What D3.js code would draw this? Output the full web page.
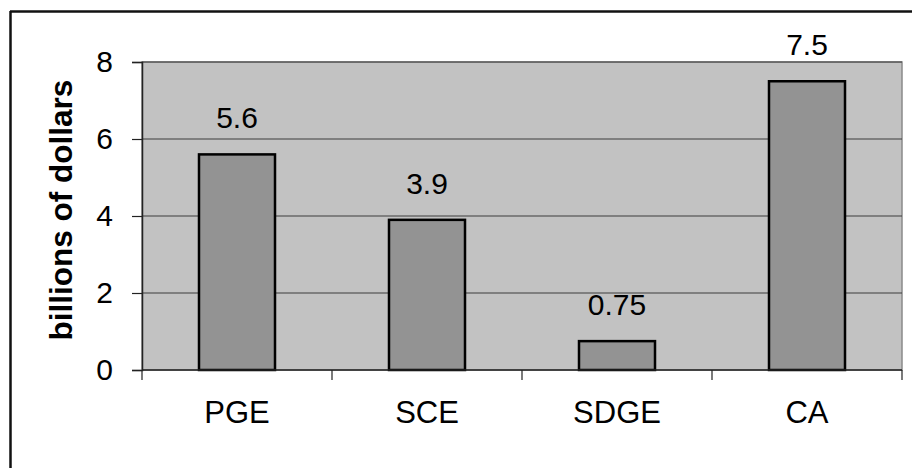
<!DOCTYPE html>
<html>
<head>
<meta charset="utf-8">
<script src="https://cdn.jsdelivr.net/npm/d3@7"></script>
<style>
  body { margin: 0; background: #fff; }
  svg text { font-family: "Liberation Sans", Arial, sans-serif; fill: #000; }
</style>
</head>
<body>
<div id="chart"></div>
<script>
const categories = ['PGE', 'SCE', 'SDGE', 'CA'];
const values = [5.6, 3.9, 0.75, 7.5];
const valueLabels = ['5.6', '3.9', '0.75', '7.5'];
const yTicks = [0, 2, 4, 6, 8];

const width = 912, height = 468;
const margin = { top: 62, right: 10, bottom: 98, left: 142 };

const svg = d3.select('#chart').append('svg')
    .attr('width', width)
    .attr('height', height);

// outer frame (only top and left edges visible)
svg.append('line')
    .attr('x1', 10).attr('x2', width).attr('y1', 11.5).attr('y2', 11.5)
    .attr('stroke', '#111').attr('stroke-width', 2.5);
svg.append('line')
    .attr('x1', 10.5).attr('x2', 10.5).attr('y1', 11).attr('y2', height)
    .attr('stroke', '#111').attr('stroke-width', 2.5);

const x = d3.scaleBand()
    .domain(categories)
    .range([margin.left, width - margin.right])
    .paddingInner(0.6)
    .paddingOuter(0.3);

const y = d3.scaleLinear()
    .domain([0, 8])
    .range([height - margin.bottom, margin.top]);

const g = svg.append('g');

// plot background
g.append('rect')
    .attr('x', margin.left)
    .attr('y', y(8))
    .attr('width', width - margin.right - margin.left)
    .attr('height', y(0) - y(8))
    .attr('fill', '#c2c2c2')
    .attr('stroke', '#8a8a8a')
    .attr('stroke-width', 1.5);

// gridlines
g.selectAll('.grid')
    .data(yTicks.filter(d => d > 0))
    .join('line')
    .attr('class', 'grid')
    .attr('x1', margin.left)
    .attr('x2', width - margin.right)
    .attr('y1', d => y(d))
    .attr('y2', d => y(d))
    .attr('stroke', '#3c3c3c')
    .attr('stroke-width', 1);

// bars
g.selectAll('.bar')
    .data(values)
    .join('rect')
    .attr('class', 'bar')
    .attr('x', (d, i) => x(categories[i]))
    .attr('y', d => y(d))
    .attr('width', x.bandwidth())
    .attr('height', d => y(0) - y(d))
    .attr('fill', '#939393')
    .attr('stroke', '#000')
    .attr('stroke-width', 2.5);

// value labels
g.selectAll('.val')
    .data(values)
    .join('text')
    .attr('class', 'val')
    .attr('x', (d, i) => x(categories[i]) + x.bandwidth() / 2)
    .attr('y', d => y(d) - 26)
    .attr('text-anchor', 'middle')
    .style('font-size', '30px')
    .text((d, i) => valueLabels[i]);

// y axis
const yAxis = svg.append('g')
    .attr('transform', `translate(${margin.left},0)`)
    .call(d3.axisLeft(y).tickValues(yTicks).tickSize(10).tickPadding(19));
yAxis.select('.domain').attr('stroke', '#222').attr('stroke-width', 1.5);
yAxis.selectAll('.tick line').attr('stroke', '#222').attr('stroke-width', 1.2);
yAxis.selectAll('text').style('font-size', '30px').attr('fill', '#000');

// x axis: ticks at band boundaries
const bounds = categories.map(c => x(c) - x.step() * x.paddingInner() / 2);
bounds.push(width - margin.right);
const xAxis = svg.append('g');
xAxis.append('line')
    .attr('x1', margin.left).attr('x2', width - margin.right)
    .attr('y1', y(0)).attr('y2', y(0))
    .attr('stroke', '#222').attr('stroke-width', 1.5);
xAxis.selectAll('.xt')
    .data(bounds)
    .join('line')
    .attr('class', 'xt')
    .attr('x1', d => d).attr('x2', d => d)
    .attr('y1', y(0)).attr('y2', y(0) + 10)
    .attr('stroke', '#222').attr('stroke-width', 1.2);
xAxis.selectAll('.xl')
    .data(categories)
    .join('text')
    .attr('class', 'xl')
    .attr('x', d => x(d) + x.bandwidth() / 2)
    .attr('y', 423)
    .attr('text-anchor', 'middle')
    .style('font-size', '31px')
    .text(d => d);

// y axis title
svg.append('text')
    .attr('transform', 'translate(72,210) rotate(-90)')
    .attr('text-anchor', 'middle')
    .style('font-size', '31.5px')
    .style('font-weight', 'bold')
    .text('billions of dollars');
</script>
</body>
</html>
